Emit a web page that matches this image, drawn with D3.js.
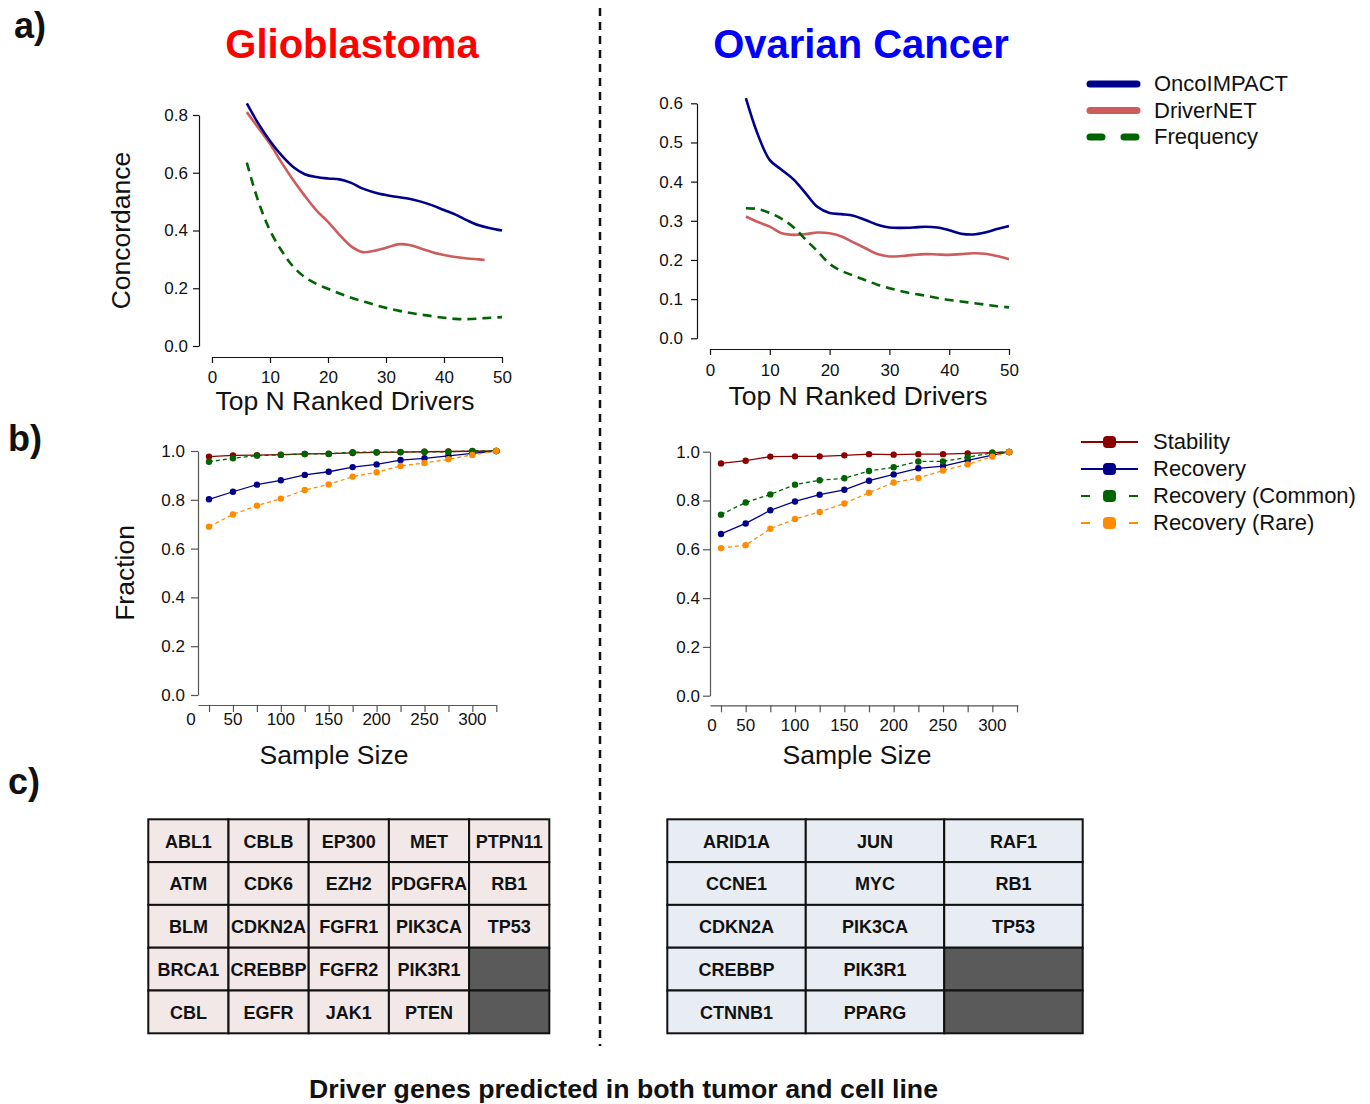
<!DOCTYPE html>
<html>
<head>
<meta charset="utf-8">
<script src="https://cdn.jsdelivr.net/npm/d3@7"></script>
<style>
  body { margin: 0; background: #fff; }
  text { font-family: "Liberation Sans", Arial, sans-serif; }
</style>
</head>
<body>
<svg id="fig"></svg>
<script>
// ---- a) concordance vs top N ranked drivers ----
const topN = [6, 8, 10, 12, 14, 16, 18, 20, 22, 24, 26, 28, 30, 32, 34, 36, 38, 40, 42, 44, 46, 48, 50];
const topNGbmNet = [6, 8, 10, 12, 14, 16, 18, 20, 22, 24, 26, 28, 30, 32, 34, 36, 38, 40, 42, 44, 46, 47];

const gbmOnco = [0.84, 0.77, 0.71, 0.66, 0.62, 0.595, 0.585, 0.58, 0.577, 0.565, 0.545, 0.532, 0.523, 0.516, 0.51, 0.50, 0.487, 0.471, 0.455, 0.435, 0.418, 0.408, 0.40];
const gbmNet = [0.81, 0.755, 0.70, 0.635, 0.575, 0.52, 0.47, 0.43, 0.385, 0.345, 0.325, 0.33, 0.34, 0.352, 0.35, 0.338, 0.325, 0.315, 0.308, 0.303, 0.30, 0.298];
const gbmFreq = [0.635, 0.50, 0.40, 0.33, 0.275, 0.238, 0.215, 0.198, 0.182, 0.167, 0.155, 0.143, 0.132, 0.123, 0.115, 0.109, 0.103, 0.098, 0.094, 0.093, 0.095, 0.098, 0.10];

const ovOnco = [0.613, 0.52, 0.455, 0.43, 0.405, 0.37, 0.335, 0.32, 0.317, 0.313, 0.302, 0.29, 0.283, 0.282, 0.283, 0.285, 0.283, 0.276, 0.267, 0.265, 0.27, 0.279, 0.287];
const ovNet = [0.311, 0.297, 0.285, 0.268, 0.264, 0.266, 0.27, 0.268, 0.26, 0.245, 0.23, 0.215, 0.209, 0.21, 0.213, 0.215, 0.214, 0.213, 0.215, 0.217, 0.216, 0.21, 0.202];
const ovFreq = [0.332, 0.33, 0.32, 0.305, 0.283, 0.252, 0.222, 0.19, 0.172, 0.16, 0.148, 0.137, 0.128, 0.12, 0.114, 0.109, 0.103, 0.098, 0.094, 0.09, 0.086, 0.082, 0.079];

const topNTicks = [0, 10, 20, 30, 40, 50];

// ---- b) fraction vs sample size ----
const sampleGbm = [25, 50, 75, 100, 125, 150, 175, 200, 225, 250, 275, 300, 325];
const sampleOv = [25, 50, 75, 100, 125, 150, 175, 200, 225, 250, 275, 300, 317];

const gbmStability = [0.977, 0.982, 0.983, 0.985, 0.988, 0.989, 0.992, 0.994, 0.995, 0.997, 0.998, 0.999, 1.0];
const gbmRecovery = [0.802, 0.833, 0.862, 0.88, 0.902, 0.915, 0.934, 0.945, 0.963, 0.97, 0.98, 0.99, 1.0];
const gbmCommon = [0.956, 0.97, 0.981, 0.984, 0.988, 0.988, 0.995, 0.995, 0.996, 0.997, 0.997, 1.0, 1.0];
const gbmRare = [0.69, 0.74, 0.776, 0.805, 0.84, 0.863, 0.895, 0.913, 0.939, 0.951, 0.966, 0.984, 1.0];

const ovStability = [0.952, 0.963, 0.98, 0.981, 0.981, 0.985, 0.99, 0.988, 0.99, 0.99, 0.993, 0.996, 0.999];
const ovRecovery = [0.663, 0.706, 0.76, 0.796, 0.824, 0.844, 0.881, 0.907, 0.932, 0.941, 0.964, 0.986, 0.999];
const ovCommon = [0.742, 0.792, 0.825, 0.865, 0.883, 0.891, 0.921, 0.936, 0.96, 0.96, 0.977, 0.996, 0.999];
const ovRare = [0.605, 0.617, 0.684, 0.724, 0.753, 0.788, 0.832, 0.874, 0.892, 0.923, 0.948, 0.98, 0.999];

const sampleTicks = [25, 50, 75, 100, 125, 150, 175, 200, 225, 250, 275, 300, 325];
const sampleLabels = [0, 50, 100, 150, 200, 250, 300];
const fractionTicks = [0, 0.2, 0.4, 0.6, 0.8, 1.0];

// ---- c) driver genes in tumor and cell line ----
const gbmGenes = ['ABL1', 'ATM', 'BLM', 'BRCA1', 'CBL', 'CBLB', 'CDK6', 'CDKN2A', 'CREBBP', 'EGFR',
  'EP300', 'EZH2', 'FGFR1', 'FGFR2', 'JAK1', 'MET', 'PDGFRA', 'PIK3CA', 'PIK3R1', 'PTEN',
  'PTPN11', 'RB1', 'TP53'];
const ovGenes = ['ARID1A', 'CCNE1', 'CDKN2A', 'CREBBP', 'CTNNB1', 'JUN', 'MYC', 'PIK3CA', 'PIK3R1', 'PPARG',
  'RAF1', 'RB1', 'TP53'];

const methodNames = ['OncoIMPACT', 'DriverNET', 'Frequency'];
const methodColors = ['#00008B', '#CD5C5C', '#006400'];
const fractionNames = ['Stability', 'Recovery', 'Recovery (Common)', 'Recovery (Rare)'];
const fractionColors = ['#8B0000', '#00008B', '#006400', '#FF8C00'];

const W = 1370, H = 1104;
const TITLE_SIZE = 26.5;
const svg = d3.select('#fig').attr('width', W).attr('height', H);

function styleAxis(g, color, fontSize) {
  g.selectAll('path, line').attr('stroke', color).attr('stroke-width', 1.2);
  g.selectAll('text').attr('fill', '#111').attr('font-size', fontSize)
    .attr('font-family', '"Liberation Sans", Arial, sans-serif');
}

// concordance panel (a)
function concordancePanel(o) {
  const x = d3.scaleLinear().domain([0, 50]).range(o.xRange);
  const y = d3.scaleLinear().domain([0, o.yMax]).range(o.yRange);
  const g = svg.append('g');

  const ya = g.append('g').attr('transform', `translate(${o.yAxisX},0)`)
    .call(d3.axisLeft(y).tickValues(o.yTicks).tickFormat(d3.format('.1f'))
      .tickSize(6).tickSizeOuter(0).tickPadding(o.yPad));
  styleAxis(ya, '#111', 17);
  const xa = g.append('g').attr('transform', `translate(0,${o.xAxisY})`)
    .call(d3.axisBottom(x).tickValues(topNTicks).tickSize(6).tickSizeOuter(0).tickPadding(o.xPad));
  styleAxis(xa, '#111', 17);

  const line = d3.line().x(d => x(d[0])).y(d => y(d[1])).curve(d3.curveCatmullRom.alpha(0.5));
  const series = [
    {xs: o.netX, ys: o.net, c: methodColors[1], dash: null},
    {xs: topN, ys: o.freq, c: methodColors[2], dash: '9,6'},
    {xs: topN, ys: o.onco, c: methodColors[0], dash: null}
  ];
  series.forEach(s => {
    g.append('path')
      .datum(s.xs.map((v, i) => [v, s.ys[i]]))
      .attr('d', line)
      .attr('fill', 'none')
      .attr('stroke', s.c)
      .attr('stroke-width', 2.6)
      .attr('stroke-dasharray', s.dash);
  });

  g.append('text').attr('x', o.xTitleX).attr('y', o.xTitleY)
    .attr('text-anchor', 'middle').attr('font-size', TITLE_SIZE).attr('fill', '#111').text('Top N Ranked Drivers');
  if (o.yTitle) {
    g.append('text').attr('transform', `translate(${o.yTitleX},${(o.yRange[0] + o.yRange[1]) / 2}) rotate(-90)`)
      .attr('text-anchor', 'middle').attr('font-size', TITLE_SIZE).attr('fill', '#111').text(o.yTitle);
  }
}

// fraction panel (b)
function fractionPanel(o) {
  const x = d3.scaleLinear().domain(o.xDomain).range(o.xRange);
  const y = d3.scaleLinear().domain([0, 1]).range(o.yRange);
  const g = svg.append('g');

  const ya = g.append('g').attr('transform', `translate(${o.xRange[0]},0)`)
    .call(d3.axisLeft(y).tickValues(fractionTicks).tickFormat(d3.format('.1f'))
      .tickSize(7).tickSizeOuter(0).tickPadding(o.yPad));
  styleAxis(ya, '#555', 17);
  const xa = g.append('g').attr('transform', `translate(0,${o.xAxisY})`)
    .call(d3.axisBottom(x).tickValues(sampleTicks).tickFormat('').tickSize(7).tickSizeOuter(0));
  styleAxis(xa, '#555', 17);
  g.append('g').selectAll('text').data(sampleLabels).join('text')
    .attr('x', d => d === 0 ? x.range()[0] + o.zeroShift : x(d))
    .attr('y', o.xLabelY)
    .attr('text-anchor', 'middle').attr('font-size', 17).attr('fill', '#111')
    .text(d => d);

  const line = d3.line().x(d => x(d[0])).y(d => y(d[1]));
  const series = [
    {ys: o.stability, c: fractionColors[0], dash: null},
    {ys: o.recovery, c: fractionColors[1], dash: null},
    {ys: o.common, c: fractionColors[2], dash: '4,3'},
    {ys: o.rare, c: fractionColors[3], dash: '4,3'}
  ];
  series.forEach(s => {
    const pts = o.xs.map((v, i) => [v, s.ys[i]]);
    g.append('path').datum(pts).attr('d', line)
      .attr('fill', 'none').attr('stroke', s.c).attr('stroke-width', 1.3)
      .attr('stroke-dasharray', s.dash);
    g.append('g').selectAll('circle').data(pts).join('circle')
      .attr('cx', d => x(d[0])).attr('cy', d => y(d[1])).attr('r', 3.2).attr('fill', s.c);
  });

  g.append('text').attr('x', o.xTitleX).attr('y', 764)
    .attr('text-anchor', 'middle').attr('font-size', TITLE_SIZE).attr('fill', '#111').text('Sample Size');
  if (o.yTitle) {
    g.append('text').attr('transform', `translate(${o.yTitleX},${(o.yRange[0] + o.yRange[1]) / 2}) rotate(-90)`)
      .attr('text-anchor', 'middle').attr('font-size', TITLE_SIZE).attr('fill', '#111').text(o.yTitle);
  }
}

// gene table (c)
function geneTable(o) {
  const nRows = 5;
  const nCols = Math.ceil(o.genes.length / nRows);
  const cells = d3.range(nRows * nCols).map(i => ({
    col: Math.floor(i / nRows), row: i % nRows, gene: o.genes[i]
  }));
  const cx = d3.scaleBand().domain(d3.range(nCols)).range(o.xRange);
  const cy = d3.scaleBand().domain(d3.range(nRows)).range(o.yRange);
  const g = svg.append('g');
  const cell = g.selectAll('g').data(cells).join('g')
    .attr('transform', d => `translate(${cx(d.col)},${cy(d.row)})`);
  cell.append('rect').attr('width', cx.bandwidth()).attr('height', cy.bandwidth())
    .attr('fill', d => d.gene ? o.fill : '#5a5a5a')
    .attr('stroke', '#111').attr('stroke-width', 2);
  cell.filter(d => d.gene).append('text')
    .attr('x', cx.bandwidth() / 2).attr('y', cy.bandwidth() / 2 + 7)
    .attr('text-anchor', 'middle').attr('font-size', 18).attr('font-weight', 'bold').attr('fill', '#111')
    .text(d => d.gene);
}

// titles & panel letters
svg.append('text').attr('x', 352).attr('y', 58).attr('text-anchor', 'middle')
  .attr('font-size', 40).attr('font-weight', 'bold').attr('fill', '#FF0000').text('Glioblastoma');
svg.append('text').attr('x', 861).attr('y', 58).attr('text-anchor', 'middle')
  .attr('font-size', 40).attr('font-weight', 'bold').attr('fill', '#0000FF').text('Ovarian Cancer');
[['a)', 14, 38], ['b)', 8, 451], ['c)', 8, 794]].forEach(([t, lx, ly]) => {
  svg.append('text').attr('x', lx).attr('y', ly).attr('font-size', 36).attr('font-weight', 'bold')
    .attr('fill', '#111').text(t);
});

// divider
svg.append('line').attr('x1', 600).attr('x2', 600).attr('y1', 8).attr('y2', 1046)
  .attr('stroke', '#111').attr('stroke-width', 2.5).attr('stroke-dasharray', '8,6');

concordancePanel({
  xRange: [212, 502], yRange: [346, 115], yMax: 0.8, yTicks: [0, 0.2, 0.4, 0.6, 0.8],
  yAxisX: 199, xAxisY: 357, yPad: 5, xPad: 8, xTitleX: 345, xTitleY: 410,
  yTitle: 'Concordance', yTitleX: 130,
  onco: gbmOnco, net: gbmNet, netX: topNGbmNet, freq: gbmFreq
});
concordancePanel({
  xRange: [710, 1009], yRange: [338.3, 103.3], yMax: 0.6, yTicks: [0, 0.1, 0.2, 0.3, 0.4, 0.5, 0.6],
  yAxisX: 697, xAxisY: 349, yPad: 8, xPad: 9, xTitleX: 858, xTitleY: 405,
  onco: ovOnco, net: ovNet, netX: topN, freq: ovFreq
});

fractionPanel({
  xDomain: [13.5, 325], xRange: [198, 496.3], yRange: [695, 451], xAxisY: 705, yPad: 6,
  xLabelY: 725, zeroShift: -7, xTitleX: 334, yTitle: 'Fraction', yTitleX: 134,
  xs: sampleGbm, stability: gbmStability, recovery: gbmRecovery, common: gbmCommon, rare: gbmRare
});
fractionPanel({
  xDomain: [13.85, 325.7], xRange: [710, 1017.7], yRange: [695.7, 451.7], xAxisY: 705.3, yPad: 3,
  xLabelY: 731, zeroShift: 2, xTitleX: 857,
  xs: sampleOv, stability: ovStability, recovery: ovRecovery, common: ovCommon, rare: ovRare
});

geneTable({genes: gbmGenes, xRange: [148.3, 549.3], yRange: [819.3, 1033.3], fill: '#F2E8E8'});
geneTable({genes: ovGenes, xRange: [667.3, 1082.7], yRange: [819.3, 1033.3], fill: '#E8ECF3'});

svg.append('text').attr('x', 309).attr('y', 1098).attr('font-size', 26).attr('font-weight', 'bold')
  .attr('fill', '#111').attr('textLength', 629).attr('lengthAdjust', 'spacingAndGlyphs')
  .text('Driver genes predicted in both tumor and cell line');

// legend a
const legA = svg.append('g').selectAll('g').data(methodNames).join('g')
  .attr('transform', (d, i) => `translate(1088,${84 + i * 26.5})`);
legA.append('line').attr('x1', 2).attr('x2', 49).attr('stroke-width', 7)
  .attr('stroke-linecap', 'round')
  .attr('stroke', (d, i) => methodColors[i])
  .attr('stroke-dasharray', (d, i) => i === 2 ? '12,22' : null);
legA.append('text').attr('x', 66).attr('y', 7).attr('font-size', 22).attr('fill', '#111').text(d => d);

// legend b
const legB = svg.append('g').selectAll('g').data(fractionNames).join('g')
  .attr('transform', (d, i) => `translate(1081,${442 + i * 27})`);
legB.append('line').attr('x1', 0).attr('x2', 57).attr('stroke-width', 2)
  .attr('stroke', (d, i) => fractionColors[i])
  .attr('stroke-dasharray', (d, i) => i >= 2 ? '9,14,11,14,9' : null);
legB.append('rect').attr('x', 22).attr('y', -6).attr('width', 13).attr('height', 12).attr('rx', 4)
  .attr('fill', (d, i) => fractionColors[i]);
legB.append('text').attr('x', 72).attr('y', 7).attr('font-size', 22).attr('fill', '#111').text(d => d);
</script>
</body>
</html>
